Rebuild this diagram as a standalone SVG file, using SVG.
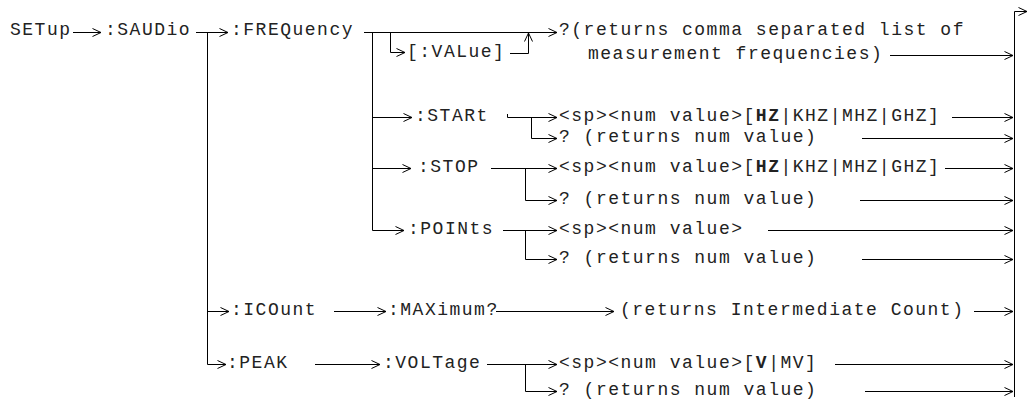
<svg xmlns="http://www.w3.org/2000/svg" width="1029" height="405" viewBox="0 0 1029 405">
<style>
text { font-family: "Liberation Mono", "Courier New", monospace; font-size: 18px; letter-spacing: 1.5px; fill: #222; }
.b { font-weight: bold; }
#connectors path { stroke: #000; stroke-width: 1; fill: none; }
.a { marker-end: url(#arr); }
</style>
<defs>
<marker id="arr" markerWidth="10" markerHeight="10" refX="9" refY="4.5" orient="auto" markerUnits="userSpaceOnUse">
<path d="M0.5,0.5 L9,4.5 L0.5,8.5" fill="none" stroke="#000" stroke-width="1"/>
</marker>
</defs>
<rect width="1029" height="405" fill="#fff"/>
<g id="connectors">
<path class="a" d="M73,32.5 H101"/>
<path class="a" d="M196,32.5 H228"/>
<path d="M207.5,32.5 V364.5"/>
<path class="a" d="M207.5,311.5 H229"/>
<path class="a" d="M207.5,364.5 H226"/>
<path class="a" d="M364,32.5 H557"/>
<path d="M372.5,32.5 V230.5"/>
<path class="a" d="M390.5,32.5 V52.5 H405"/>
<path class="a" d="M510,53.5 H528.5 V33"/>
<path class="a" d="M372.5,117.5 H412"/>
<path class="a" d="M507.5,114 V117.5 H557"/>
<path class="a" d="M531.5,117.5 V138.5 H557"/>
<path class="a" d="M372.5,168.5 H411"/>
<path class="a" d="M491,168.5 H557"/>
<path class="a" d="M525.5,168.5 V200.5 H557"/>
<path class="a" d="M372.5,230.5 H404"/>
<path class="a" d="M503,230.5 H557"/>
<path class="a" d="M525.5,230.5 V259.5 H557"/>
<path class="a" d="M334,311.5 H386"/>
<path class="a" d="M496,311.5 H614"/>
<path class="a" d="M315,364.5 H380"/>
<path class="a" d="M487,364.5 H557"/>
<path class="a" d="M525.5,364.5 V391.5 H557"/>
<path class="a" d="M890,55.5 H1013"/>
<path class="a" d="M952,117.5 H1013"/>
<path class="a" d="M862,138.5 H1013"/>
<path class="a" d="M945,168.5 H1013"/>
<path class="a" d="M860,200.5 H1013"/>
<path class="a" d="M768,230.5 H1013"/>
<path class="a" d="M862,259.5 H1013"/>
<path class="a" d="M974,311.5 H1013"/>
<path class="a" d="M835,364.5 H1013"/>
<path class="a" d="M865,391.5 H1013"/>
<path class="a" d="M1014.5,397 V11.5 H1027"/>
</g>
<g id="setup"><text x="10" y="35">SETup</text></g>
<g id="saudio"><text x="105" y="35">:SAUDio</text></g>
<g id="frequency"><text x="231" y="35">:FREQuency</text></g>
<g id="value"><text x="407" y="57">[:VALue]</text></g>
<g id="freq-query"><text x="559" y="35">?(returns comma separated list of</text><text x="588" y="59">measurement frequencies)</text></g>
<g id="start"><text x="415" y="121">:STARt</text></g>
<g id="start-set"><text x="559" y="121">&lt;sp&gt;&lt;num value&gt;[<tspan class="b">HZ</tspan>|KHZ|MHZ|GHZ]</text></g>
<g id="start-query"><text x="559" y="142">? (returns num value)</text></g>
<g id="stop"><text x="418" y="172">:STOP</text></g>
<g id="stop-set"><text x="559" y="172">&lt;sp&gt;&lt;num value&gt;[<tspan class="b">HZ</tspan>|KHZ|MHZ|GHZ]</text></g>
<g id="stop-query"><text x="559" y="204">? (returns num value)</text></g>
<g id="points"><text x="408" y="234">:POINts</text></g>
<g id="points-set"><text x="559" y="234">&lt;sp&gt;&lt;num value&gt;</text></g>
<g id="points-query"><text x="559" y="263">? (returns num value)</text></g>
<g id="icount"><text x="231" y="315">:ICOunt</text></g>
<g id="maximum"><text x="388" y="315">:MAXimum?</text></g>
<g id="icount-query"><text x="620" y="315">(returns Intermediate Count)</text></g>
<g id="peak"><text x="227" y="368">:PEAK</text></g>
<g id="voltage"><text x="383" y="368">:VOLTage</text></g>
<g id="peak-set"><text x="559" y="368">&lt;sp&gt;&lt;num value&gt;[<tspan class="b">V</tspan>|MV]</text></g>
<g id="peak-query"><text x="559" y="395">? (returns num value)</text></g>
</svg>
